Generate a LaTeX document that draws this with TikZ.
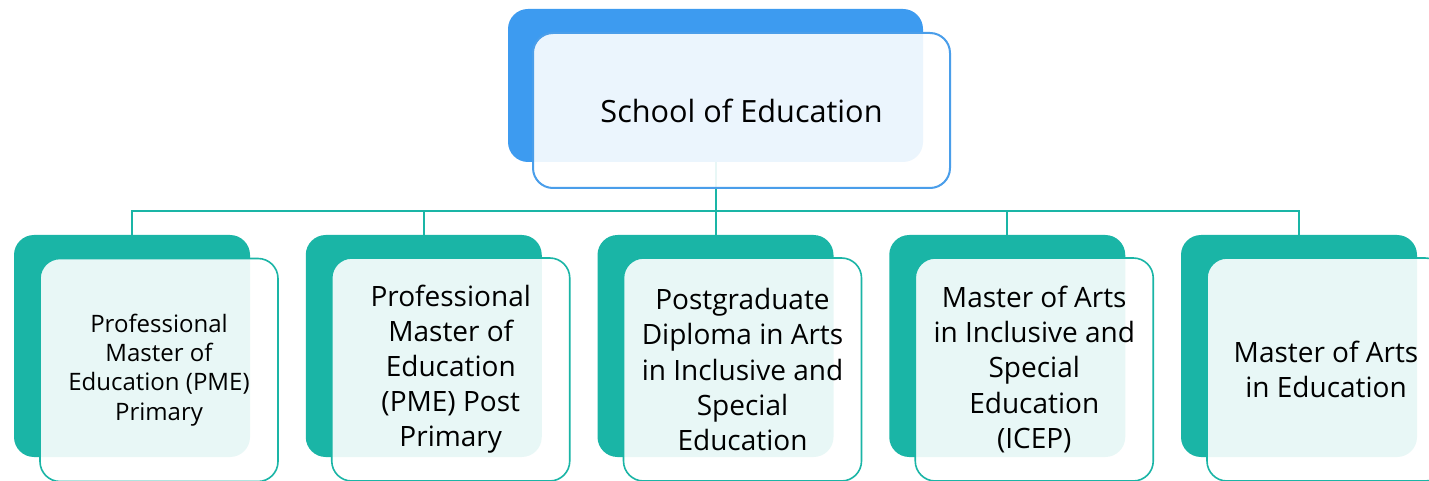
\documentclass[tikz,border=0pt]{standalone}
\usepackage{fontspec}
\setmainfont{Open Sans}
\definecolor{bluedark}{HTML}{3D9BF0}
\definecolor{blueline}{HTML}{4A9EEA}
\definecolor{teal}{HTML}{1AB5A6}
\tikzset{
  px/.style={x=0.75pt,y=-0.75pt},
  topback/.style={rectangle,rounded corners=15pt,fill=bluedark,minimum width=311.25pt,minimum height=114.75pt,inner sep=0pt},
  topfront/.style={rectangle,rounded corners=15pt,draw=blueline,line width=1.5pt,fill=white,fill opacity=0.9,text opacity=1,minimum width=312.75pt,minimum height=116.25pt,inner sep=0pt,align=center,font=\fontsize{23pt}{28pt}\selectfont},
  childback/.style={rectangle,rounded corners=15pt,fill=teal,minimum width=177pt,minimum height=166.5pt,inner sep=0pt},
  childfront/.style={rectangle,rounded corners=15pt,draw=teal,line width=1.2pt,fill=white,fill opacity=0.9,text opacity=1,minimum width=178.5pt,minimum height=167.25pt,inner sep=0pt,align=center,font=\fontsize{21pt}{26.3pt}\selectfont},
  smalltext/.style={font=\fontsize{18pt}{22pt}\selectfont},
  conn/.style={draw=teal,line width=1.5pt}
}
\begin{document}
\begin{tikzpicture}[px]
\useasboundingbox (0,0) rectangle (1429,481);
\clip (0,0) rectangle (1429,481);
\fill[white] (0,0) rectangle (1429,481);
% back shapes
\node[topback] (tb) at (715.5,85.5) {};
\node[childback] (b1) at (132,346) {};
\node[childback] (b2) at (423.75,346) {};
\node[childback] (b3) at (715.5,346) {};
\node[childback] (b4) at (1007.25,346) {};
\node[childback] (b5) at (1299,346) {};
\coordinate (bus) at (0,211);
% connectors
\draw[conn] (tb.south) -- (tb.south |- bus) -| (b1.north);
\draw[conn] (tb.south |- bus) -| (b2.north);
\draw[conn] (tb.south |- bus) -- (b3.north);
\draw[conn] (tb.south |- bus) -| (b4.north);
\draw[conn] (tb.south |- bus) -| (b5.north);
% front boxes
\node[topfront] (tf) at (741.5,110.5) {School of Education};
\node[childfront,smalltext] (f1) at (159,370) {Professional\\Master of\\Education (PME)\\Primary};
\node[childfront] (f2) at (450.75,369.5) {Professional\\Master of\\Education\\(PME) Post\\Primary};
\node[childfront] (f3) at (742.5,369.5) {Postgraduate\\Diploma in Arts\\in Inclusive and\\Special\\Education};
\node[childfront] (f4) at (1034.25,369.5) {Master of Arts\\in Inclusive and\\Special\\Education\\(ICEP)};
\node[childfront] (f5) at (1326,369.5) {Master of Arts\\in Education};
\end{tikzpicture}
\end{document}
